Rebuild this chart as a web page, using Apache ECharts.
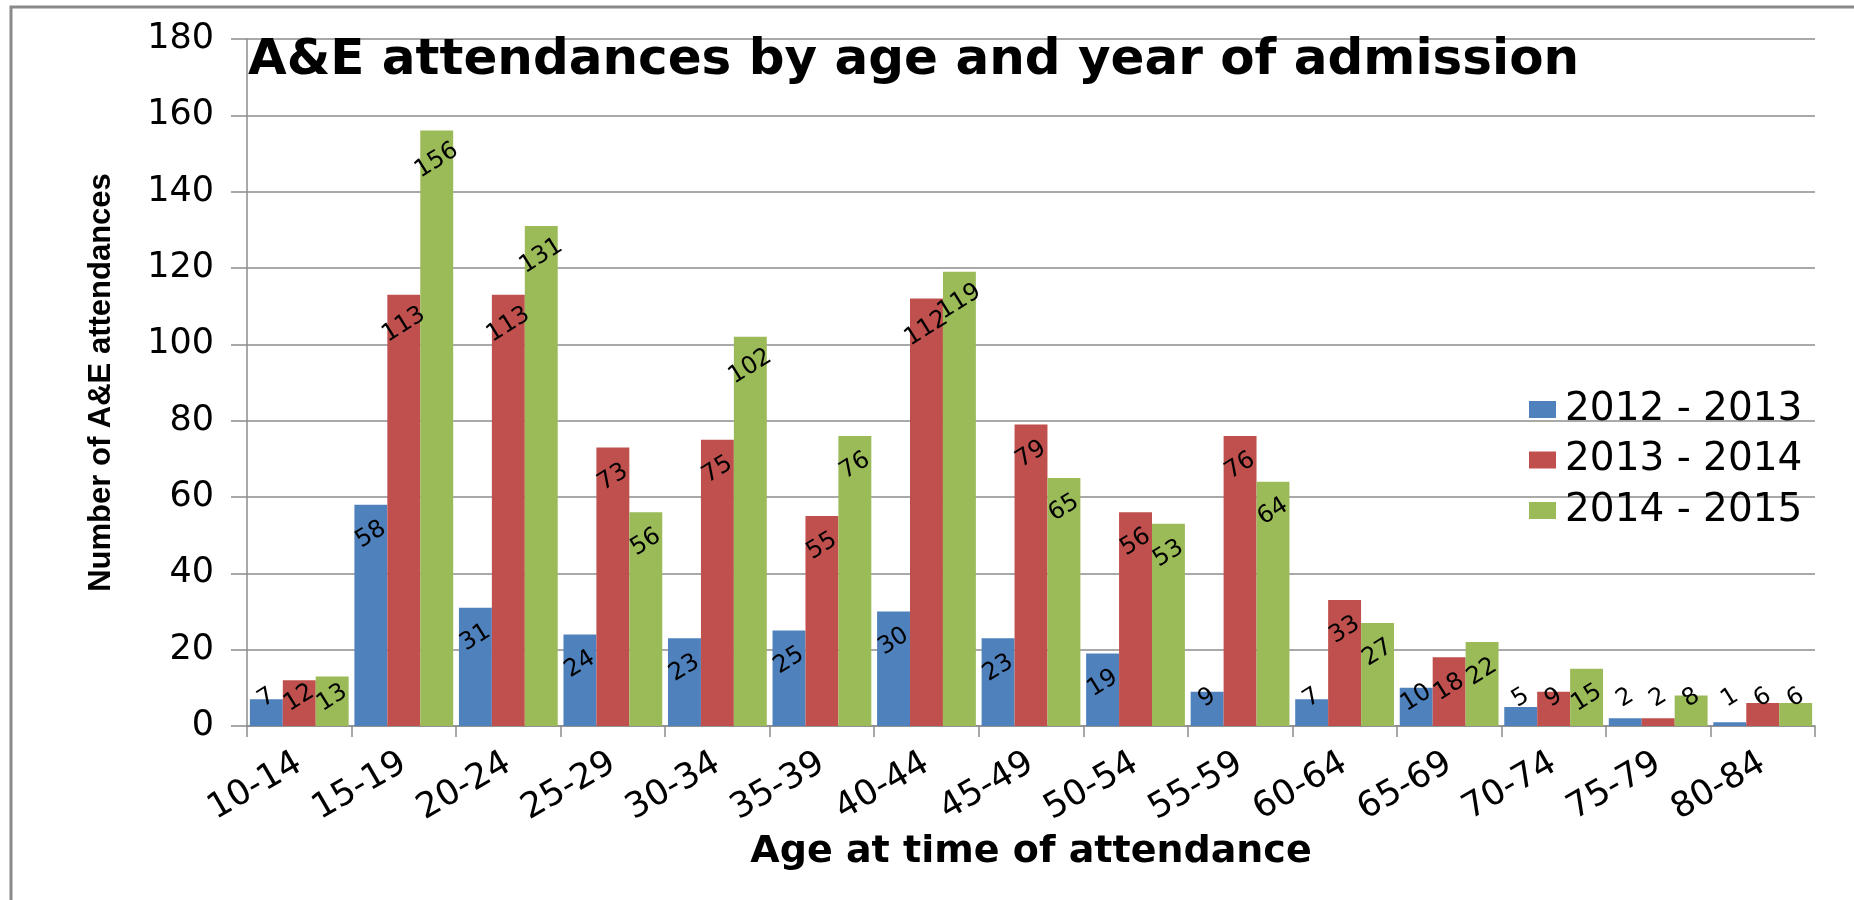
<!DOCTYPE html>
<html>
<head>
<meta charset="utf-8">
<title>A&amp;E attendances by age and year of admission</title>
<script src="https://cdn.jsdelivr.net/npm/echarts@6/dist/echarts.min.js"></script>
<style>
  html, body { margin: 0; padding: 0; background: #fff; }
  #chart { width: 1854px; height: 900px; }
</style>
</head>
<body>
<div id="chart"></div>
<script>
// age bands on the x axis
const ageBands = ['10-14', '15-19', '20-24', '25-29', '30-34', '35-39', '40-44', '45-49',
  '50-54', '55-59', '60-64', '65-69', '70-74', '75-79', '80-84'];

// attendances per year
const attend2012 = [7, 58, 31, 24, 23, 25, 30, 23, 19, 9, 7, 10, 5, 2, 1];
const attend2013 = [12, 113, 113, 73, 75, 55, 112, 79, 56, 76, 33, 18, 9, 2, 6];
const attend2014 = [13, 156, 131, 56, 102, 76, 119, 65, 53, 64, 27, 22, 15, 8, 6];

const seriesNames = ['2012 - 2013', '2013 - 2014', '2014 - 2015'];
const seriesColors = ['#4F81BD', '#C0504D', '#9BBB59'];

const gridColor = '#8c8c8c';
const myChart = echarts.init(document.getElementById('chart'));

function makeBar(name, values, color) {
  return {
    name: name,
    type: 'bar',
    data: values,
    barGap: '0%',
    barCategoryGap: '5.5%',
    itemStyle: { color: color },
    label: {
      show: true,
      color: '#000',
      fontFamily: 'DejaVu Sans',
      fontSize: 24,
    },
    // label sits just inside the top of the bar, but never below the baseline area
    labelLayout: function (params) {
      const r = params.rect;
      const base = r.y + r.height;
      return {
        x: r.x + r.width / 2,
        y: Math.min(r.y + 30, base - 28),
        align: 'center',
        verticalAlign: 'middle',
        rotate: 32,
      };
    },
  };
}

const option = {
  animation: false,
  backgroundColor: '#fff',
  title: {
    text: 'A&E attendances by age and year of admission',
    left: 248,
    top: 36,
    padding: 0,
    textStyle: {
      fontFamily: 'DejaVu Sans',
      fontWeight: 'bold',
      fontSize: 50,
      color: '#000',
    },
  },
  legend: {
    data: seriesNames,
    orient: 'vertical',
    left: 1529,
    top: 390,
    padding: 0,
    icon: 'rect',
    itemWidth: 27,
    itemHeight: 17,
    itemGap: 11.5,
    textStyle: {
      fontFamily: 'DejaVu Sans',
      fontSize: 39,
      color: '#000',
      padding: [0, 0, 0, 4],
    },
  },
  grid: {
    left: 247,
    right: 39,
    top: 39,
    bottom: 174,
  },
  xAxis: {
    type: 'category',
    data: ageBands,
    name: 'Age at time of attendance',
    nameLocation: 'middle',
    nameGap: 101,
    nameTextStyle: {
      fontFamily: 'DejaVu Sans',
      fontWeight: 'bold',
      fontSize: 38,
      color: '#000',
    },
    axisLine: { lineStyle: { color: gridColor, width: 1.5 } },
    axisTick: { show: true, length: 11, alignWithLabel: false, lineStyle: { color: gridColor, width: 1.5 } },
    axisLabel: {
      interval: 0,
      rotate: 30,
      margin: 35,
      fontFamily: 'DejaVu Sans',
      fontSize: 35,
      color: '#000',
    },
  },
  yAxis: {
    type: 'value',
    min: 0,
    max: 180,
    interval: 20,
    name: 'Number of A&E attendances',
    nameLocation: 'middle',
    nameGap: 130,
    nameTextStyle: {
      fontFamily: 'Liberation Sans',
      fontWeight: 'bold',
      fontSize: 31,
      color: '#000',
    },
    axisLine: { show: true, lineStyle: { color: gridColor, width: 1.5 } },
    axisTick: { show: true, length: 16, lineStyle: { color: gridColor, width: 1.5 } },
    axisLabel: {
      margin: 33,
      fontFamily: 'DejaVu Sans',
      fontSize: 35,
      color: '#000',
    },
    splitLine: { lineStyle: { color: gridColor, width: 1.5 } },
  },
  graphic: [
    {
      type: 'polyline',
      silent: true,
      shape: { points: [[11, 900], [11, 7], [1854, 7]] },
      style: { stroke: '#8a8a8a', lineWidth: 3, fill: null },
    },
  ],
  series: [
    makeBar(seriesNames[0], attend2012, seriesColors[0]),
    makeBar(seriesNames[1], attend2013, seriesColors[1]),
    makeBar(seriesNames[2], attend2014, seriesColors[2]),
  ],
};

myChart.setOption(option);
</script>
</body>
</html>
